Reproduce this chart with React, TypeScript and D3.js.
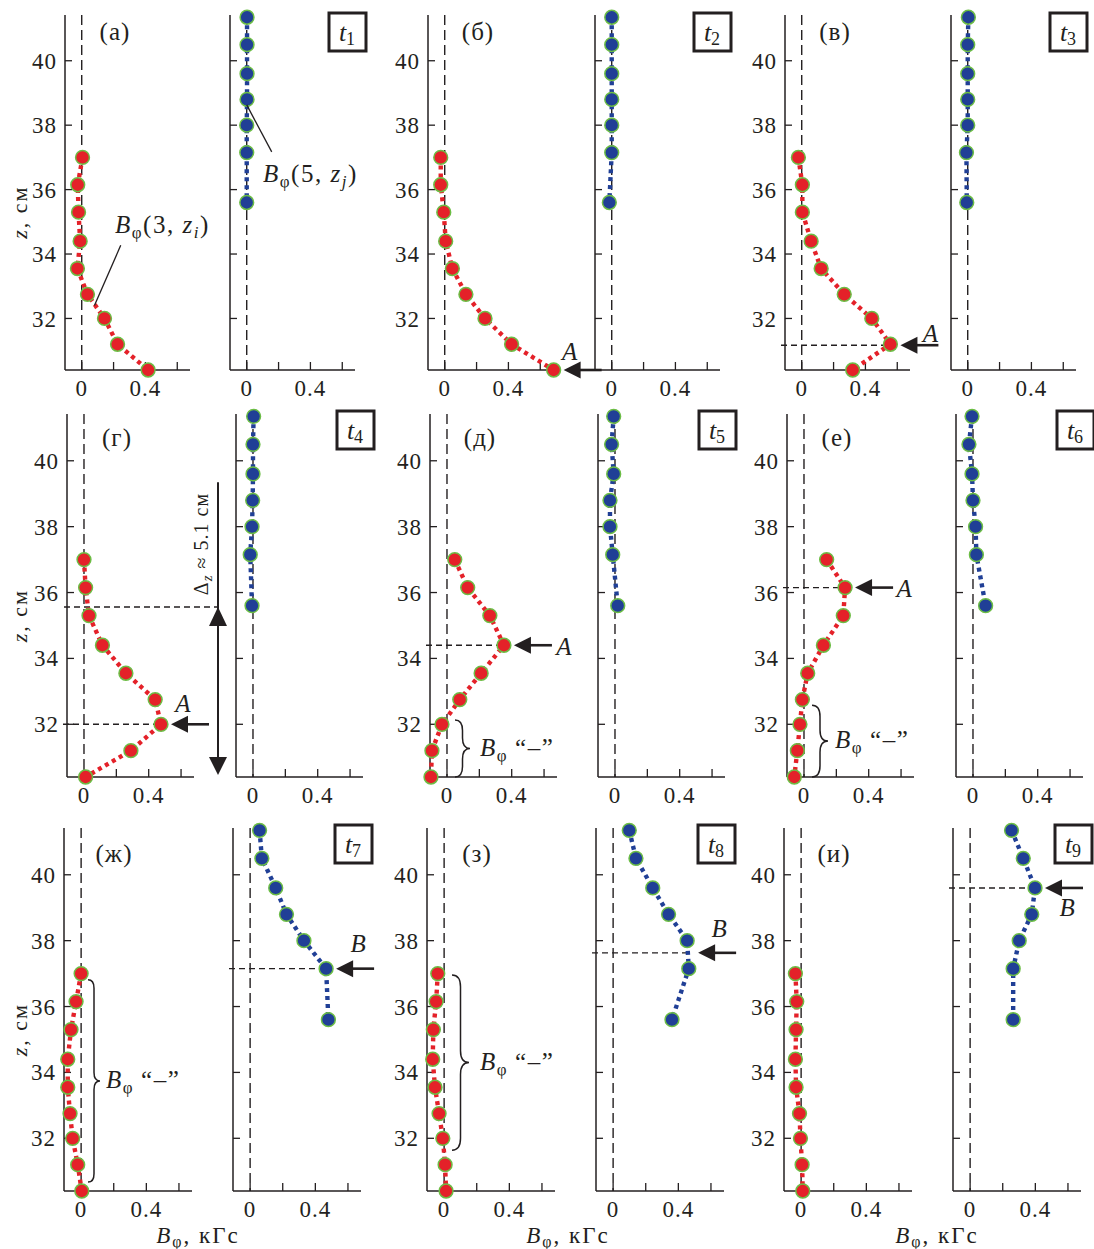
import React from 'react';
import * as d3 from 'd3';

// Measurement heights (cm) of the two probe columns
const zRed = [37.0, 36.15, 35.3, 34.4, 33.55, 32.75, 32.0, 31.2, 30.4];
const zBlue = [41.35, 40.5, 39.6, 38.8, 38.0, 37.15, 35.6];

// B_phi(3, z_i), kGs, for instants t1..t9
const bRed = [
  [0.005, -0.025, -0.02, -0.01, -0.027, 0.036, 0.143, 0.225, 0.417],
  [-0.025, -0.025, -0.006, 0.006, 0.048, 0.133, 0.253, 0.42, 0.684],
  [-0.021, 0.004, 0.004, 0.059, 0.122, 0.267, 0.44, 0.557, 0.32],
  [0.0, 0.01, 0.031, 0.114, 0.259, 0.44, 0.476, 0.29, 0.01],
  [0.048, 0.128, 0.265, 0.352, 0.211, 0.079, -0.031, -0.093, -0.099],
  [0.14, 0.254, 0.243, 0.12, 0.023, -0.01, -0.025, -0.041, -0.06],
  [0.0, -0.031, -0.062, -0.082, -0.082, -0.068, -0.052, -0.021, 0.004],
  [-0.039, -0.049, -0.066, -0.07, -0.056, -0.031, -0.008, 0.006, 0.012],
  [-0.035, -0.027, -0.031, -0.035, -0.031, -0.01, -0.004, 0.006, 0.01],
];

// B_phi(5, z_j), kGs, for instants t1..t9
const bBlue = [
  [0.002, 0.002, 0.002, 0.002, 0.0, 0.0, 0.0],
  [0.0, 0.0, 0.0, 0.0, 0.0, 0.0, -0.015],
  [0.004, 0.0, 0.0, 0.0, 0.0, -0.008, -0.006],
  [0.004, 0.0, 0.0, -0.002, -0.006, -0.017, -0.006],
  [-0.008, -0.021, -0.008, -0.031, -0.031, -0.014, 0.017],
  [-0.006, -0.025, -0.006, 0.0, 0.016, 0.021, 0.078],
  [0.058, 0.072, 0.157, 0.223, 0.33, 0.466, 0.48],
  [0.099, 0.14, 0.243, 0.34, 0.454, 0.464, 0.361],
  [0.254, 0.326, 0.398, 0.378, 0.301, 0.264, 0.264],
];

const panelLetters = ['а', 'б', 'в', 'г', 'д', 'е', 'ж', 'з', 'и'];
const timeLabels = ['1', '2', '3', '4', '5', '6', '7', '8', '9'];
const xTicks = [0, 0.2, 0.4, 0.6];
const xTickLabels = [0, 0.4];
const zTicks = [32, 34, 36, 38, 40];
const bDomain = [-0.105, 0.68];
const zDomain = [30.4, 41.42];

// Peak "A" on the inner probe and "B" on the outer probe
const peaksA = [
  { panel: 1, z: 30.4, b: 0.684, dashed: false },
  { panel: 2, z: 31.17, b: 0.557, dashed: true },
  { panel: 3, z: 32.0, b: 0.476, dashed: true },
  { panel: 4, z: 34.4, b: 0.352, dashed: true },
  { panel: 5, z: 36.15, b: 0.254, dashed: true },
];
const peaksB = [
  { panel: 6, z: 37.15, b: 0.466 },
  { panel: 7, z: 37.63, b: 0.46 },
  { panel: 8, z: 39.6, b: 0.398 },
];
// z-ranges where B_phi is negative
const negativeSpans = [
  { panel: 4, zTop: 32.13, zBottom: 30.4 },
  { panel: 5, zTop: 32.58, zBottom: 30.4 },
  { panel: 6, zTop: 36.81, zBottom: 30.67 },
  { panel: 7, zTop: 36.96, zBottom: 31.64 },
];
// Displacement of the peak between t1 and t4
const deltaZ = { panel: 3, zFrom: 35.56, zTo: 30.46, zLineTop: 39.35, value: '5.1' };

// ---- layout ----
const ROWS = [
  { top: 15, bottom: 370, width: 125, letterBase: 40, boxTop: 13 },
  { top: 414, bottom: 777, width: 127, letterBase: 446, boxTop: 411 },
  { top: 828, bottom: 1191, width: 128, letterBase: 862, boxTop: 825 },
];
const LEFTS = [
  [65, 230, 428, 595, 785, 951],
  [67, 236, 430, 598, 787, 956],
  [64, 233, 427, 596, 784, 953],
];
const BOTTOM_LABEL_X = [198, 568, 937];
const A_LABEL_OFFSET: Record<number, [number, number]> = {
  1: [6, -10], 2: [30, -3], 3: [12, -12], 4: [50, 10], 5: [49, 9],
};
const B_LABEL_OFFSET: Record<number, [number, number]> = {
  6: [22, -17], 7: [21, -16], 8: [22, 28],
};
const BRACE_LAYOUT: Record<number, { x: number; w: number; lx: number }> = {
  4: { x: 455, w: 15, lx: 480 },
  5: { x: 812, w: 16, lx: 835 },
  6: { x: 88, w: 12, lx: 106 },
  7: { x: 452, w: 17, lx: 480 },
};

const SERIF = '"Liberation Serif", "Times New Roman", serif';
const INK = '#231f20';
const RED = '#e42129';
const BLUE = '#203f96';
const RING = '#6cbd45';
const LS = 1.5; // letter spacing used for the labels

type Lin = d3.ScaleLinear<number, number>;

function Axes({ x, y, yLabels }: { x: Lin; y: Lin; yLabels: boolean }) {
  const [x0, x1] = x.range();
  const [yb, yt] = y.range();
  return (
    <g>
      <line x1={x(0)} x2={x(0)} y1={yt} y2={yb} stroke={INK} strokeWidth={1.4} strokeDasharray="10 5" />
      <line x1={x0} x2={x0} y1={yt} y2={yb} stroke={INK} strokeWidth={1.5} />
      <line x1={x0} x2={x1} y1={yb} y2={yb} stroke={INK} strokeWidth={1.5} />
      {zTicks.map((t) => (
        <line key={'zt' + t} x1={x0} x2={x0 + 7} y1={y(t)} y2={y(t)} stroke={INK} strokeWidth={1.3} />
      ))}
      {xTicks.map((t) => (
        <line key={'xt' + t} x1={x(t)} x2={x(t)} y1={yb} y2={yb - 8} stroke={INK} strokeWidth={1.3} />
      ))}
      {yLabels &&
        zTicks.map((t) => (
          <text key={'zl' + t} x={x0 - 8} y={y(t)} dy="0.35em" textAnchor="end" fontSize={23} letterSpacing={1} fill={INK}>
            {t}
          </text>
        ))}
      {xTickLabels.map((t) => (
        <text key={'xl' + t} x={x(t)} y={yb + 26} textAnchor="middle" fontSize={23} letterSpacing={1} fill={INK}>
          {String(t)}
        </text>
      ))}
    </g>
  );
}

function Series({ x, y, b, z, color }: { x: Lin; y: Lin; b: number[]; z: number[]; color: string }) {
  const pts = b.map((v, i) => [v, z[i]] as [number, number]);
  const line = d3.line<[number, number]>().x((d) => x(d[0])).y((d) => y(d[1]));
  return (
    <g>
      <path d={line(pts) || ''} fill="none" stroke={color} strokeWidth={4.4} strokeDasharray="4 4" />
      {pts.map((p, i) => (
        <circle key={i} cx={x(p[0])} cy={y(p[1])} r={6.9} fill={color} stroke={RING} strokeWidth={1.5} />
      ))}
    </g>
  );
}

function LeftArrow({ tip, y, len = 38 }: { tip: number; y: number; len?: number }) {
  return (
    <g>
      <line x1={tip + 12} x2={tip + len} y1={y} y2={y} stroke={INK} strokeWidth={2.6} />
      <path d={`M${tip},${y} L${tip + 17},${y - 8.5} L${tip + 17},${y + 8.5} Z`} fill={INK} />
    </g>
  );
}

function Brace({ x, y1, y2, w }: { x: number; y1: number; y2: number; w: number }) {
  const xm = x + w * 0.5;
  const ym = (y1 + y2) / 2;
  const r = Math.min(w * 0.7, (y2 - y1) / 4);
  const d = `M${x},${y1} Q${xm},${y1} ${xm},${y1 + r} L${xm},${ym - r} Q${xm},${ym} ${x + w},${ym} Q${xm},${ym} ${xm},${ym + r} L${xm},${y2 - r} Q${xm},${y2} ${x},${y2}`;
  return <path d={d} fill="none" stroke={INK} strokeWidth={1.5} />;
}

function BphiNeg({ x, y }: { x: number; y: number }) {
  return (
    <text x={x} y={y} fontSize={25} letterSpacing={LS} fill={INK}>
      <tspan fontStyle="italic">B</tspan>
      <tspan fontSize={17} dy={5}>φ</tspan>
      <tspan dy={-5} dx={7}>“–”</tspan>
    </text>
  );
}

export default function App() {
  const panels = d3.range(9).map((k) => {
    const row = Math.floor(k / 3);
    const col = k % 3;
    const g = ROWS[row];
    const lx = LEFTS[row][2 * col];
    const rx = LEFTS[row][2 * col + 1];
    const y = d3.scaleLinear().domain(zDomain).range([g.bottom, g.top]);
    const xL = d3.scaleLinear().domain(bDomain).range([lx, lx + g.width]);
    const xR = d3.scaleLinear().domain(bDomain).range([rx, rx + g.width]);
    return { k, row, col, g, y, xL, xR };
  });

  return (
    <svg
      width={1094}
      height={1249}
      viewBox="0 0 1094 1249"
      style={{ position: 'absolute', left: 0, top: 0, background: '#fff' }}
      fontFamily={SERIF}
    >
      <rect x={0} y={0} width={1094} height={1249} fill="#fff" />
      {panels.map(({ k, row, col, g, y, xL, xR }) => {
        const peakA = peaksA.find((p) => p.panel === k);
        const peakB = peaksB.find((p) => p.panel === k);
        const span = negativeSpans.find((s) => s.panel === k);
        const [lx0] = xL.range();
        const [rx0, rx1] = xR.range();
        return (
          <g key={k}>
            <Axes x={xL} y={y} yLabels={true} />
            <Axes x={xR} y={y} yLabels={false} />

            {/* peak A marker */}
            {peakA && peakA.dashed && (
              <line x1={lx0 - 4} x2={xL(peakA.b)} y1={y(peakA.z)} y2={y(peakA.z)} stroke={INK} strokeWidth={1.4} strokeDasharray="6 4" />
            )}
            {/* peak B marker */}
            {peakB && (
              <line x1={rx0 - 4} x2={xR(peakB.b)} y1={y(peakB.z)} y2={y(peakB.z)} stroke={INK} strokeWidth={1.4} strokeDasharray="6 4" />
            )}

            {/* displacement of the peak */}
            {deltaZ.panel === k && (
              <g>
                <line x1={lx0 - 3} x2={218} y1={y(deltaZ.zFrom)} y2={y(deltaZ.zFrom)} stroke={INK} strokeWidth={1.4} strokeDasharray="6 4" />
                <line x1={218} x2={218} y1={y(deltaZ.zLineTop)} y2={y(deltaZ.zTo) - 10} stroke={INK} strokeWidth={2} />
                <path d={`M218,${y(deltaZ.zFrom)} L209,${y(deltaZ.zFrom) + 19} L227,${y(deltaZ.zFrom) + 19} Z`} fill={INK} />
                <path d={`M218,${y(deltaZ.zTo)} L209,${y(deltaZ.zTo) - 18} L227,${y(deltaZ.zTo) - 18} Z`} fill={INK} />
                <text transform={`translate(208,544) rotate(-90)`} textAnchor="middle" fontSize={20} letterSpacing={1} fill={INK}>
                  Δ<tspan fontStyle="italic" fontSize={15} dy={4}>z</tspan>
                  <tspan dy={-4}> ≈ {deltaZ.value} см</tspan>
                </text>
              </g>
            )}

            <Series x={xL} y={y} b={bRed[k]} z={zRed} color={RED} />
            <Series x={xR} y={y} b={bBlue[k]} z={zBlue} color={BLUE} />

            {peakA && (
              <g>
                <LeftArrow tip={xL(peakA.b) + 10} y={y(peakA.z)} />
                <text
                  x={xL(peakA.b) + 10 + A_LABEL_OFFSET[k][0]}
                  y={y(peakA.z) + A_LABEL_OFFSET[k][1]}
                  textAnchor="middle"
                  fontSize={25}
                  fontStyle="italic"
                  fill={INK}
                >
                  A
                </text>
              </g>
            )}
            {peakB && (
              <g>
                <LeftArrow tip={xR(peakB.b) + 10} y={y(peakB.z)} />
                <text
                  x={xR(peakB.b) + 10 + B_LABEL_OFFSET[k][0]}
                  y={y(peakB.z) + B_LABEL_OFFSET[k][1]}
                  textAnchor="middle"
                  fontSize={25}
                  fontStyle="italic"
                  fill={INK}
                >
                  B
                </text>
              </g>
            )}

            {span && (
              <g>
                <Brace x={BRACE_LAYOUT[k].x} y1={y(span.zTop)} y2={y(span.zBottom)} w={BRACE_LAYOUT[k].w} />
                <BphiNeg x={BRACE_LAYOUT[k].lx} y={(y(span.zTop) + y(span.zBottom)) / 2 + 7} />
              </g>
            )}

            {/* panel letter */}
            <text x={lx0 + 50} y={g.letterBase} textAnchor="middle" fontSize={25} letterSpacing={1} fill={INK}>
              ({panelLetters[k]})
            </text>

            {/* instant box */}
            <rect x={rx1 - 26} y={g.boxTop} width={37} height={38} fill="#fff" stroke={INK} strokeWidth={3} />
            <text x={rx1 - 8} y={g.boxTop + 28} textAnchor="middle" fontSize={26} fill={INK}>
              <tspan fontStyle="italic">t</tspan>
              <tspan fontSize={18} dy={4}>{timeLabels[k]}</tspan>
            </text>

            {/* axis titles */}
            {col === 0 && (
              <text transform={`translate(27,${y(35.3)}) rotate(-90)`} textAnchor="middle" fontSize={22} letterSpacing={2} fill={INK}>
                <tspan fontStyle="italic">z</tspan>, см
              </text>
            )}
            {row === 2 && (
              <text x={BOTTOM_LABEL_X[col]} y={1243} textAnchor="middle" fontSize={23} letterSpacing={2} fill={INK}>
                <tspan fontStyle="italic">B</tspan>
                <tspan fontSize={16} dy={4}>φ</tspan>
                <tspan dy={-4}>, кГс</tspan>
              </text>
            )}
          </g>
        );
      })}

      {/* probe labels in the first pair */}
      {(() => {
        const p = panels[0];
        return (
          <g>
            <line x1={p.xL(0.08)} y1={p.y(32.4)} x2={p.xL(0.245)} y2={p.y(34.27)} stroke={INK} strokeWidth={1.3} />
            <text x={115} y={233} fontSize={25} letterSpacing={LS} fill={INK}>
              <tspan fontStyle="italic">B</tspan>
              <tspan fontSize={17} dy={5}>φ</tspan>
              <tspan dy={-5}>(3, </tspan>
              <tspan fontStyle="italic">z</tspan>
              <tspan fontStyle="italic" fontSize={17} dy={5}>i</tspan>
              <tspan dy={-5}>)</tspan>
            </text>
            <line x1={p.xR(0.0)} y1={p.y(38.63)} x2={p.xR(0.157)} y2={p.y(37.17)} stroke={INK} strokeWidth={1.3} />
            <text x={263} y={182} fontSize={25} letterSpacing={LS} fill={INK}>
              <tspan fontStyle="italic">B</tspan>
              <tspan fontSize={17} dy={5}>φ</tspan>
              <tspan dy={-5}>(5, </tspan>
              <tspan fontStyle="italic">z</tspan>
              <tspan fontStyle="italic" fontSize={17} dy={5}>j</tspan>
              <tspan dy={-5}>)</tspan>
            </text>
          </g>
        );
      })()}
    </svg>
  );
}
